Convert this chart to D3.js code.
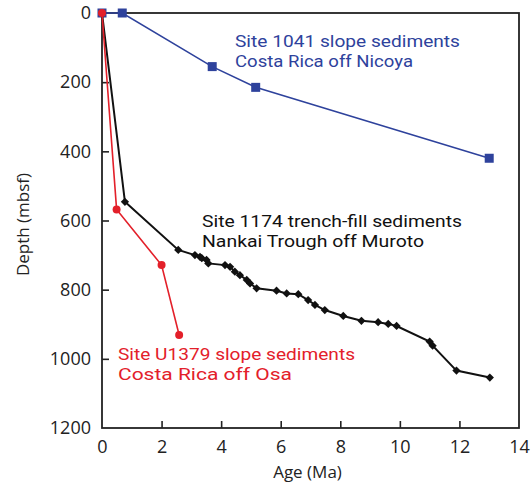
<!DOCTYPE html>
<html>
<head>
<meta charset="utf-8">
<script src="https://cdn.jsdelivr.net/npm/d3@7"></script>
<style>
  html, body { margin: 0; padding: 0; background: #fff; }
  svg text { font-family: "Open Sans", "Noto Sans", sans-serif; }
</style>
</head>
<body>
<div id="chart"></div>
<script>
// ---- data ----
const xTicks = [0, 2, 4, 6, 8, 10, 12, 14];
const yTicks = [0, 200, 400, 600, 800, 1000, 1200];

const site1041Age   = [0, 0.68, 3.70, 5.16, 13.0];
const site1041Depth = [0, 0, 155, 215, 420];

const siteU1379Age   = [0, 0.49, 2.0, 2.59];
const siteU1379Depth = [0, 568, 729, 931];

const site1174Age   = [0, 0.77, 2.56, 3.12, 3.29, 3.35, 3.51, 3.57, 4.13, 4.30, 4.46, 4.63, 4.86, 4.97, 5.19, 5.86, 6.20, 6.59, 6.92, 7.15, 7.48, 8.10, 8.71, 9.27, 9.61, 9.89, 11.0, 11.1, 11.90, 13.02];
const site1174Depth = [0, 546, 685, 700, 705, 709, 714, 724, 729, 734, 748, 758, 772, 782, 796, 803, 811, 813, 830, 844, 859, 876, 890, 894, 899, 905, 950, 962, 1034, 1054];

const labels1041  = ["Site 1041 slope sediments", "Costa Rica off Nicoya"];
const labels1174  = ["Site 1174 trench-fill sediments", "Nankai Trough off Muroto"];
const labelsU1379 = ["Site U1379 slope sediments", "Costa Rica off Osa"];

// ---- layout ----
const W = 531, H = 492;
const margin = {left: 102, top: 13, right: 12, bottom: 64};
const iw = W - margin.left - margin.right;
const ih = H - margin.top - margin.bottom;

const blue = "#2e429c", red = "#e3202a", black = "#111";

const svg = d3.select("#chart").append("svg")
  .attr("width", W).attr("height", H);
const g = svg.append("g").attr("transform", `translate(${margin.left},${margin.top})`);

const x = d3.scaleLinear().domain([0, 14]).range([0, iw]);
const y = d3.scaleLinear().domain([0, 1200]).range([0, ih]);

// frame
g.append("rect").attr("x", 0).attr("y", 0).attr("width", iw).attr("height", ih)
  .attr("fill", "none").attr("stroke", "#222").attr("stroke-width", 1.8);

// axes
const xAxis = d3.axisBottom(x).tickValues(xTicks).tickFormat(d3.format("d"))
  .tickSizeInner(-7).tickSizeOuter(0).tickPadding(12);
const gx = g.append("g").attr("transform", `translate(0,${ih})`).call(xAxis);
gx.select(".domain").remove();
gx.selectAll(".tick line").attr("stroke", "#222").attr("stroke-width", 1.6)
  .filter(d => d === 0 || d === 14).remove();
gx.selectAll(".tick text").attr("font-size", 18).attr("fill", "#222")
  .style("font-family", "'Open Sans', sans-serif");

const yAxis = d3.axisLeft(y).tickValues(yTicks).tickFormat(d3.format("d"))
  .tickSizeInner(-7).tickSizeOuter(0).tickPadding(11);
const gy = g.append("g").call(yAxis);
gy.select(".domain").remove();
gy.selectAll(".tick line").attr("stroke", "#222").attr("stroke-width", 1.6)
  .filter(d => d === 0 || d === 1200).remove();
gy.selectAll(".tick text").attr("font-size", 18).attr("fill", "#222")
  .style("font-family", "'Open Sans', sans-serif");

// axis titles
svg.append("text").attr("x", margin.left + iw / 2 - 3).attr("y", 478)
  .attr("text-anchor", "middle").attr("font-size", 17).attr("fill", "#222")
  .text("Age (Ma)");
svg.append("text").attr("transform", `translate(29,${margin.top + ih / 2 + 4}) rotate(-90)`)
  .attr("text-anchor", "middle").attr("font-size", 17).attr("fill", "#222")
  .text("Depth (mbsf)");

const line = d3.line().x(d => x(d[0])).y(d => y(d[1]));
const zip = (a, b) => a.map((v, i) => [v, b[i]]);

const d1041 = zip(site1041Age, site1041Depth);
const d1174 = zip(site1174Age, site1174Depth);
const dU1379 = zip(siteU1379Age, siteU1379Depth);

// Site 1041 (blue)
g.append("path").datum(d1041).attr("d", line)
  .attr("fill", "none").attr("stroke", blue).attr("stroke-width", 1.6);
g.selectAll(".sq").data(d1041).enter().append("rect")
  .attr("x", d => x(d[0]) - 4.5).attr("y", d => y(d[1]) - 4.5)
  .attr("width", 9).attr("height", 9).attr("fill", blue);

// Site 1174 (black)
g.append("path").datum(d1174).attr("d", line)
  .attr("fill", "none").attr("stroke", black).attr("stroke-width", 2);
g.selectAll(".dm").data(d1174).enter().append("path")
  .attr("d", d3.symbol().type(d3.symbolSquare).size(34))
  .attr("transform", d => `translate(${x(d[0])},${y(d[1])}) rotate(45)`)
  .attr("fill", black);

// Site U1379 (red)
g.append("path").datum(dU1379).attr("d", line)
  .attr("fill", "none").attr("stroke", red).attr("stroke-width", 1.6);
g.selectAll(".ci").data(dU1379).enter().append("circle")
  .attr("cx", d => x(d[0])).attr("cy", d => y(d[1])).attr("r", 4)
  .attr("fill", red);

// annotations
function label(lines, px, py, color, widths) {
  lines.forEach((t, i) => {
    svg.append("text").attr("x", px).attr("y", py + i * 20)
      .attr("font-size", 17).attr("fill", color)
      .style("font-family", "Roboto, 'Liberation Sans', sans-serif")
      .attr("textLength", widths[i]).attr("lengthAdjust", "spacingAndGlyphs")
      .text(t);
  });
}
label(labels1041, 235, 47, blue, [225, 178]);
label(labels1174, 202, 227, black, [260, 222]);
label(labelsU1379, 118, 360, red, [237, 174]);
</script>
</body>
</html>
